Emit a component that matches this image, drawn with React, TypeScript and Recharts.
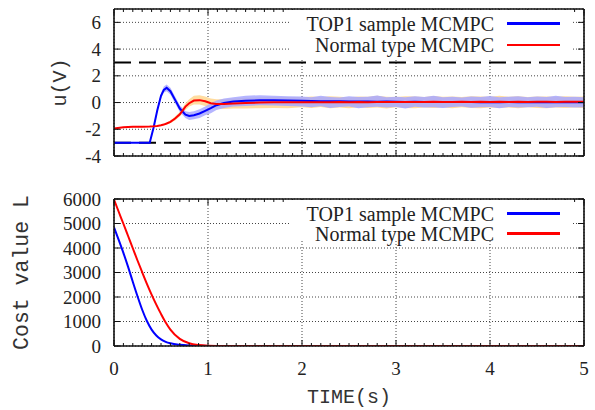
import React from 'react';
import { ComposedChart, Line, Area, XAxis, YAxis, CartesianGrid, Legend } from 'recharts';

// ---------- data ----------
const uTime = [0, 0.1, 0.2, 0.3, 0.38, 0.42, 0.46, 0.5, 0.53, 0.56, 0.6, 0.65, 0.7, 0.76, 0.8, 0.85, 0.91, 0.97, 1.03, 1.09, 1.17, 1.27, 1.4, 1.55, 1.7, 1.85,
  2.0, 2.1, 2.2, 2.3, 2.4, 2.5, 2.6, 2.7, 2.8, 2.9, 3.0, 3.1, 3.2, 3.3, 3.4, 3.5, 3.6, 3.7, 3.8, 3.9, 4.0, 4.1, 4.2, 4.3, 4.4, 4.5, 4.6, 4.7, 4.8, 4.9, 5.0];

const uTop1 = [-3, -3, -3, -3, -3, -1.9, -0.6, 0.5, 0.95, 1.1, 0.85, 0.2, -0.45, -0.9, -1.0, -0.95, -0.82, -0.62, -0.42, -0.2, -0.03, 0.07, 0.14, 0.17, 0.18, 0.16,
  0.13, 0.12, 0.1, 0.09, 0.1, 0.08, 0.07, 0.08, 0.06, 0.07, 0.06, 0.05, 0.06, 0.05, 0.04, 0.05, 0.04, 0.05, 0.04, 0.03, 0.04, 0.03, 0.04, 0.03, 0.04, 0.03, 0.02, 0.03, 0.03, 0.02, 0.03];

const uNormal = [-1.95, -1.85, -1.82, -1.82, -1.8, -1.78, -1.75, -1.7, -1.65, -1.57, -1.45, -1.2, -0.88, -0.3, -0.05, 0.15, 0.18, 0.1, -0.05, -0.1, -0.1, -0.07, -0.03, 0.0, 0.02, 0.02,
  0.03, 0.03, 0.02, 0.03, 0.04, 0.03, 0.04, 0.03, 0.04, 0.05, 0.04, 0.05, 0.04, 0.05, 0.06, 0.05, 0.05, 0.06, 0.05, 0.06, 0.05, 0.06, 0.05, 0.06, 0.05, 0.06, 0.06, 0.05, 0.06, 0.06, 0.06];

const top1BandLo = [-3, -3, -3, -3, -3, -2.0, -0.75, 0.3, 0.75, 0.85, 0.6, -0.05, -0.7, -1.15, -1.3, -1.25, -1.15, -0.95, -0.8, -0.55, -0.4, -0.3, -0.25, -0.2, -0.22, -0.25,
  -0.3, -0.36, -0.28, -0.4, -0.33, -0.3, -0.42, -0.35, -0.31, -0.38, -0.34, -0.44, -0.32, -0.37, -0.35, -0.41, -0.33, -0.3, -0.39, -0.36, -0.34, -0.43, -0.33, -0.38, -0.35, -0.31, -0.4, -0.36, -0.33, -0.38, -0.35];
const top1BandHi = [-3, -3, -3, -3, -3, -1.8, -0.45, 0.7, 1.2, 1.35, 1.1, 0.45, -0.2, -0.65, -0.7, -0.65, -0.5, -0.3, -0.05, 0.15, 0.3, 0.4, 0.5, 0.55, 0.5, 0.48,
  0.45, 0.4, 0.5, 0.42, 0.38, 0.48, 0.41, 0.44, 0.52, 0.4, 0.43, 0.39, 0.47, 0.42, 0.5, 0.4, 0.44, 0.38, 0.46, 0.41, 0.49, 0.4, 0.43, 0.47, 0.39, 0.45, 0.42, 0.5, 0.41, 0.44, 0.4];

const normalBandLo = [-1.95, -1.87, -1.84, -1.84, -1.82, -1.8, -1.78, -1.74, -1.7, -1.65, -1.55, -1.35, -1.05, -0.55, -0.3, -0.15, -0.15, -0.25, -0.4, -0.45, -0.48, -0.45, -0.45, -0.42, -0.4, -0.42,
  -0.36, -0.4, -0.34, -0.42, -0.38, -0.43, -0.35, -0.4, -0.37, -0.44, -0.36, -0.4, -0.42, -0.37, -0.41, -0.38, -0.43, -0.36, -0.4, -0.42, -0.37, -0.41, -0.38, -0.43, -0.36, -0.4, -0.42, -0.38, -0.41, -0.37, -0.4];
const normalBandHi = [-1.95, -1.83, -1.8, -1.8, -1.78, -1.76, -1.72, -1.66, -1.58, -1.5, -1.35, -1.05, -0.7, -0.05, 0.25, 0.5, 0.55, 0.45, 0.3, 0.25, 0.25, 0.3, 0.35, 0.4, 0.42, 0.42,
  0.4, 0.45, 0.42, 0.48, 0.44, 0.4, 0.46, 0.43, 0.5, 0.44, 0.41, 0.47, 0.45, 0.42, 0.49, 0.44, 0.46, 0.41, 0.48, 0.45, 0.43, 0.5, 0.44, 0.47, 0.42, 0.46, 0.45, 0.43, 0.48, 0.44, 0.46];

const uLimit = 3;

const costTime = [0, 0.05, 0.1, 0.15, 0.2, 0.25, 0.3, 0.35, 0.4, 0.45, 0.5, 0.55, 0.6, 0.7, 0.8, 0.9, 1.0, 1.2, 1.5, 2, 3, 4, 5];
const costTop1 = [4840, 4330, 3800, 3230, 2620, 2030, 1480, 1020, 670, 430, 270, 170, 110, 50, 22, 9, 4, 1, 0, 0, 0, 0, 0];
const costNormal = [5980, 5480, 4990, 4490, 3990, 3490, 3010, 2540, 2100, 1690, 1310, 960, 670, 290, 110, 38, 14, 3, 1, 0, 0, 0, 0];

const xMajorTicks = [0, 1, 2, 3, 4, 5];
const xAllTicks = Array.from({ length: 51 }, (_, i) => i / 10);
const uTicks = [-4, -2, 0, 2, 4, 6];
const costTicks = [0, 1000, 2000, 3000, 4000, 5000, 6000];

const seriesNames = ['TOP1 sample MCMPC', 'Normal type MCMPC'];
const seriesColors = ['#0000ff', '#ff0000'];

const uRows = uTime.map((t, i) => ({
  t,
  top1: uTop1[i],
  normal: uNormal[i],
  top1Band: [top1BandLo[i], top1BandHi[i]],
  normalBand: [normalBandLo[i], normalBandHi[i]],
  hi: uLimit,
  lo: -uLimit,
}));
const costRows = costTime.map((t, i) => ({ t, top1: costTop1[i], normal: costNormal[i] }));

// ---------- style ----------
const INK = '#111';
const SERIF = "'Liberation Serif', 'Times New Roman', serif";
const MONO = "'Liberation Mono', 'Courier New', monospace";
const MAJOR = 6;
const MINOR = 3;
const isInt = (v: number) => Math.abs(v - Math.round(v)) < 1e-6;
const serifStyle = { fontFamily: SERIF, fontSize: 19 };

const XBottomTick = (props: any) => {
  const { x, y, payload, showLabel } = props;
  const v = payload.value;
  const len = isInt(v) ? MAJOR : MINOR;
  return (
    <g>
      <line x1={x} y1={y} x2={x} y2={y - len} stroke={INK} strokeWidth={1} />
      {showLabel && isInt(v) ? (
        <text x={x} y={y + 22} textAnchor="middle" dominantBaseline="central" style={serifStyle} fill="#222">
          {Math.round(v)}
        </text>
      ) : null}
    </g>
  );
};

const XTopTick = (props: any) => {
  const { x, y, payload } = props;
  const len = isInt(payload.value) ? MAJOR : MINOR;
  return <line x1={x} y1={y} x2={x} y2={y + len} stroke={INK} strokeWidth={1} />;
};

const YLeftTick = (props: any) => {
  const { x, y, payload } = props;
  return (
    <g>
      <line x1={x} y1={y} x2={x + MAJOR} y2={y} stroke={INK} strokeWidth={1} />
      <text x={x - 13} y={y} textAnchor="end" dominantBaseline="central" style={serifStyle} fill="#222">
        {payload.value}
      </text>
    </g>
  );
};

const YRightTick = (props: any) => {
  const { x, y } = props;
  return <line x1={x} y1={y} x2={x - MAJOR} y2={y} stroke={INK} strokeWidth={1} />;
};

const LegendBox = (rowH: number, firstCenter: number) => () => (
  <div style={{ background: '#fff', width: 283, height: '100%', position: 'relative' }}>
    {seriesNames.map((n, i) => (
      <div key={n} style={{ position: 'absolute', left: 0, top: firstCenter + i * rowH - 11, height: 22, width: 283, display: 'flex', alignItems: 'center' }}>
        <div style={{ width: 205, textAlign: 'right', fontFamily: SERIF, fontSize: 20, color: '#222', lineHeight: '22px', whiteSpace: 'nowrap' }}>{n}</div>
        <div style={{ marginLeft: 13, width: 53, height: 2.5, background: seriesColors[i] }} />
      </div>
    ))}
  </div>
);

const yLabel = (text: string, dx: number, size: number) => (p: any) => {
  const vb = p.viewBox || {};
  const cx = (vb.x ?? 0) + (vb.width ?? 0) + dx;
  const cy = (vb.y ?? 0) + (vb.height ?? 0) / 2;
  return (
    <text transform={`translate(${cx}, ${cy}) rotate(-90)`} textAnchor="middle" dominantBaseline="central" style={{ fontFamily: MONO, fontSize: size }} fill="#333">
      {text}
    </text>
  );
};

const xLabel = (text: string, dy: number) => (p: any) => {
  const vb = p.viewBox || {};
  const cx = (vb.x ?? 0) + (vb.width ?? 0) / 2;
  const cy = (vb.y ?? 0) + dy;
  return (
    <text x={cx} y={cy} textAnchor="middle" dominantBaseline="central" style={{ fontFamily: MONO, fontSize: 20 }} fill="#333">
      {text}
    </text>
  );
};

const commonAxes = (yDomain: number[], yTicks: number[], showXLabels: boolean, yTitle: string, yTitleDx: number, yTitleSize: number, xTitle?: string) => [
  <XAxis key="x" xAxisId="x" dataKey="t" type="number" domain={[0, 5]} ticks={xAllTicks} interval={0} allowDataOverflow
    height={1} tickSize={0} tickMargin={0} axisLine={{ stroke: INK, strokeWidth: 1.6 }} tickLine={false}
    tick={(p: any) => <XBottomTick {...p} showLabel={showXLabels} />}
    label={xTitle ? xLabel(xTitle, 51) : undefined} />,
  <XAxis key="g" xAxisId="g" dataKey="t" type="number" domain={[0, 5]} ticks={xMajorTicks} interval={0} allowDataOverflow hide height={0} />,
  <XAxis key="xt" xAxisId="xt" orientation="top" dataKey="t" type="number" domain={[0, 5]} ticks={xAllTicks} interval={0} allowDataOverflow
    height={1} tickSize={0} tickMargin={0} axisLine={{ stroke: INK, strokeWidth: 1.6 }} tickLine={false}
    tick={(p: any) => <XTopTick {...p} />} />,
  <YAxis key="y" yAxisId="y" type="number" domain={yDomain} ticks={yTicks} interval={0} allowDataOverflow
    width={1} tickSize={0} tickMargin={0} axisLine={{ stroke: INK, strokeWidth: 1.6 }} tickLine={false}
    tick={(p: any) => <YLeftTick {...p} />} label={yLabel(yTitle, yTitleDx, yTitleSize)} />,
  <YAxis key="yr" yAxisId="yr" orientation="right" type="number" domain={yDomain} ticks={yTicks} interval={0} allowDataOverflow
    width={1} tickSize={0} tickMargin={0} axisLine={{ stroke: INK, strokeWidth: 1.6 }} tickLine={false}
    tick={(p: any) => <YRightTick {...p} />} />,
];

export default function App() {
  return (
    <div style={{ position: 'absolute', left: 0, top: 0, width: 595, height: 410, background: '#fff' }}>
      <div style={{ position: 'absolute', left: 0, top: 0 }}>
        <ComposedChart width={595} height={180} data={uRows} margin={{ top: 8, right: 10, bottom: 23, left: 113 }}>
          <CartesianGrid xAxisId="g" yAxisId="y" stroke="#444" strokeDasharray="1 2" strokeWidth={1} />
          {commonAxes([-4, 7], uTicks, false, 'u(V)', -54, 20)}
          <Area xAxisId="x" yAxisId="y" dataKey="normalBand" type="linear" stroke="none" fill="#ffdca0" fillOpacity={1} isAnimationActive={false} legendType="none" />
          <Area xAxisId="x" yAxisId="y" dataKey="top1Band" type="linear" stroke="none" fill="#a8a8ff" fillOpacity={0.85} isAnimationActive={false} legendType="none" />
          <Line xAxisId="x" yAxisId="y" dataKey="hi" type="linear" stroke="#000" strokeWidth={2} strokeDasharray="17 8" dot={false} isAnimationActive={false} legendType="none" />
          <Line xAxisId="x" yAxisId="y" dataKey="lo" type="linear" stroke="#000" strokeWidth={2} strokeDasharray="17 8" dot={false} isAnimationActive={false} legendType="none" />
          <Line xAxisId="x" yAxisId="y" dataKey="top1" name={seriesNames[0]} type="linear" stroke={seriesColors[0]} strokeWidth={2} dot={false} isAnimationActive={false} />
          <Line xAxisId="x" yAxisId="y" dataKey="normal" name={seriesNames[1]} type="linear" stroke={seriesColors[1]} strokeWidth={2} dot={false} isAnimationActive={false} />
          <Legend layout="vertical" align="center" verticalAlign="middle" content={LegendBox(21.5, 13.5)}
            wrapperStyle={{ left: 289, top: 10, width: 283, height: 48, margin: 0, padding: 0 }} />
        </ComposedChart>
      </div>
      <div style={{ position: 'absolute', left: 0, top: 180 }}>
        <ComposedChart width={595} height={230} data={costRows} margin={{ top: 18, right: 10, bottom: 63, left: 113 }}>
          <CartesianGrid xAxisId="g" yAxisId="y" stroke="#444" strokeDasharray="1 2" strokeWidth={1} />
          {commonAxes([0, 6000], costTicks, true, 'Cost value L', -92, 21.5, 'TIME(s)')}
          <Line xAxisId="x" yAxisId="y" dataKey="top1" name={seriesNames[0]} type="monotone" stroke={seriesColors[0]} strokeWidth={2} dot={false} isAnimationActive={false} />
          <Line xAxisId="x" yAxisId="y" dataKey="normal" name={seriesNames[1]} type="monotone" stroke={seriesColors[1]} strokeWidth={2} dot={false} isAnimationActive={false} />
          <Legend layout="vertical" align="center" verticalAlign="middle" content={LegendBox(20, 13.5)}
            wrapperStyle={{ left: 289, top: 20, width: 283, height: 41, margin: 0, padding: 0 }} />
        </ComposedChart>
      </div>
    </div>
  );
}
